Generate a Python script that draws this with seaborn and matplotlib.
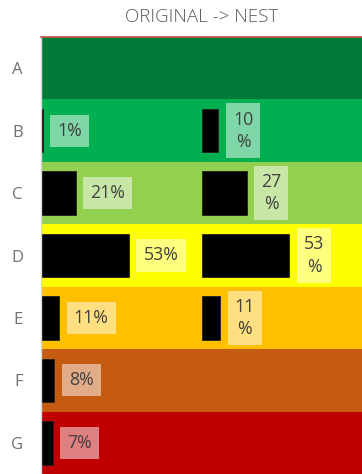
import matplotlib
matplotlib.use("Agg")
import matplotlib.pyplot as plt
import numpy as np
import pandas as pd
import seaborn as sns

# Category rows and the share of items in each, before and after nesting
categories = ["A", "B", "C", "D", "E", "F", "G"]
original_pct = [np.nan, 1, 21, 53, 11, 8, 7]
nest_pct = [np.nan, 10, 27, 53, 11, np.nan, np.nan]
band_colors = ["#007A37", "#00B050", "#92D050", "#FFFF00", "#FFC000", "#C55A11", "#C00000"]
title = "ORIGINAL -> NEST"

sns.set_theme(style="white")
plt.rcParams["font.family"] = ["Open Sans", "DejaVu Sans"]

df = pd.DataFrame({"category": categories, "original": original_pct, "nest": nest_pct})

W, H = 362, 474
fig = plt.figure(figsize=(W / 100, H / 100), dpi=100)
left, split, top = 41, 202, 37
ax1 = fig.add_axes([left / W, 0, (split - left) / W, (H - top) / H])
ax2 = fig.add_axes([split / W, 0, (W - split) / W, (H - top) / H])

panels = [(ax1, "original", "{:g}%"), (ax2, "nest", "{:g}\n%")]
for ax, col, fmt in panels:
    for i, c in enumerate(band_colors):
        ax.axhspan(i - 0.5, i + 0.5, color=c, lw=0, zorder=0)
    sub = df.dropna(subset=[col])
    sns.barplot(data=sub, x=col, y="category", order=categories, color="black",
                width=0.7, orient="h", ax=ax, zorder=2, saturation=1,
                edgecolor="#222222", linewidth=0.6)
    for _, r in sub.iterrows():
        yi = categories.index(r["category"])
        ax.annotate(fmt.format(r[col]), xy=(r[col], yi), xytext=(10.5, 0),
                    textcoords="offset points", ha="left", va="center",
                    multialignment="center",
                    fontsize=12.8, color="#404040", linespacing=1.3, zorder=3,
                    bbox=dict(boxstyle="square,pad=0.4", fc="white", ec="none", alpha=0.5))
    ax.set_xlim(0, 97)
    ax.set_ylim(6.5, -0.5)
    ax.set_xlabel("")
    ax.set_ylabel("")
    ax.set_xticks([])
    for s in ["right", "bottom", "left"]:
        ax.spines[s].set_visible(False)
    ax.spines["top"].set_color("#C0504D")
    ax.spines["top"].set_linewidth(1.2)
    ax.patch.set_visible(False)

ax1.spines["left"].set_visible(True)
ax1.spines["left"].set_color("#D9D9D9")
ax1.spines["left"].set_linewidth(1)
ax1.tick_params(axis="y", length=0, pad=13, labelsize=12, labelcolor="#707070")
ax2.set_yticks([])

fig.text((left + W) / 2 / W, 1 - 17 / H, title, ha="center", va="center",
         fontsize=13.5, color="#595959", fontweight="light")

fig.savefig("out.png", dpi=100)
